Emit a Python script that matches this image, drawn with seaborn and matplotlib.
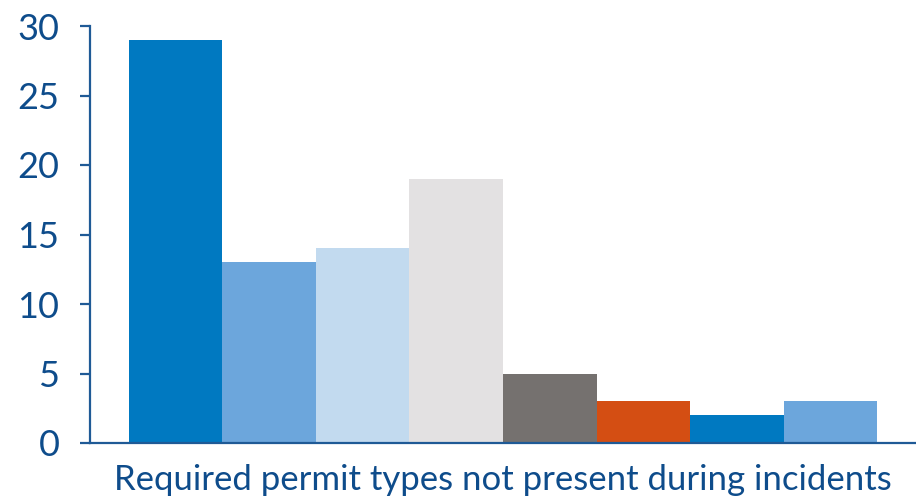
import matplotlib
matplotlib.use("Agg")
import matplotlib.pyplot as plt
import seaborn as sns
import pandas as pd

# data
category = "Required permit types not present during incidents"
permit_types = ["Type A", "Type B", "Type C", "Type D", "Type E", "Type F", "Type G", "Type H"]
counts = [29, 13, 14, 19, 5, 3, 2, 3]
colors = ["#0079C1", "#6CA6DC", "#C2DAEF", "#E3E1E2", "#75716F", "#D44E13", "#0079C1", "#6CA6DC"]
yticks = [0, 5, 10, 15, 20, 25, 30]

text_col = "#0E4C8B"
axis_col = "#1F5A96"

df = pd.DataFrame({"cat": [category] * len(counts), "type": permit_types, "count": counts})

sns.set_style("white")
plt.rcParams["font.family"] = ["Lato", "DejaVu Sans"]

fig = plt.figure(figsize=(9.16, 5.01), dpi=100)
ax = fig.add_axes([90 / 916, 1 - 443 / 501, 826 / 916, (443 - 26) / 501])

sns.barplot(data=df, x="cat", y="count", hue="type", palette=colors,
            width=0.906, gap=0, saturation=1, legend=False, linewidth=0, ax=ax)

ax.set_xlim(-0.5, 0.5)
ax.set_ylim(0, 30)
ax.set_yticks(yticks)
ax.set_xlabel("")
ax.set_ylabel("")

for s in ["top", "right"]:
    ax.spines[s].set_visible(False)
for s in ["left", "bottom"]:
    ax.spines[s].set_color(axis_col)
    ax.spines[s].set_linewidth(1.6)

ax.tick_params(axis="y", length=7, width=1.6, color=axis_col, labelcolor=text_col,
               labelsize=26, pad=15, left=True)
ax.tick_params(axis="x", length=0, labelcolor=text_col, labelsize=25, pad=15)

fig.savefig("out.png", dpi=100)
